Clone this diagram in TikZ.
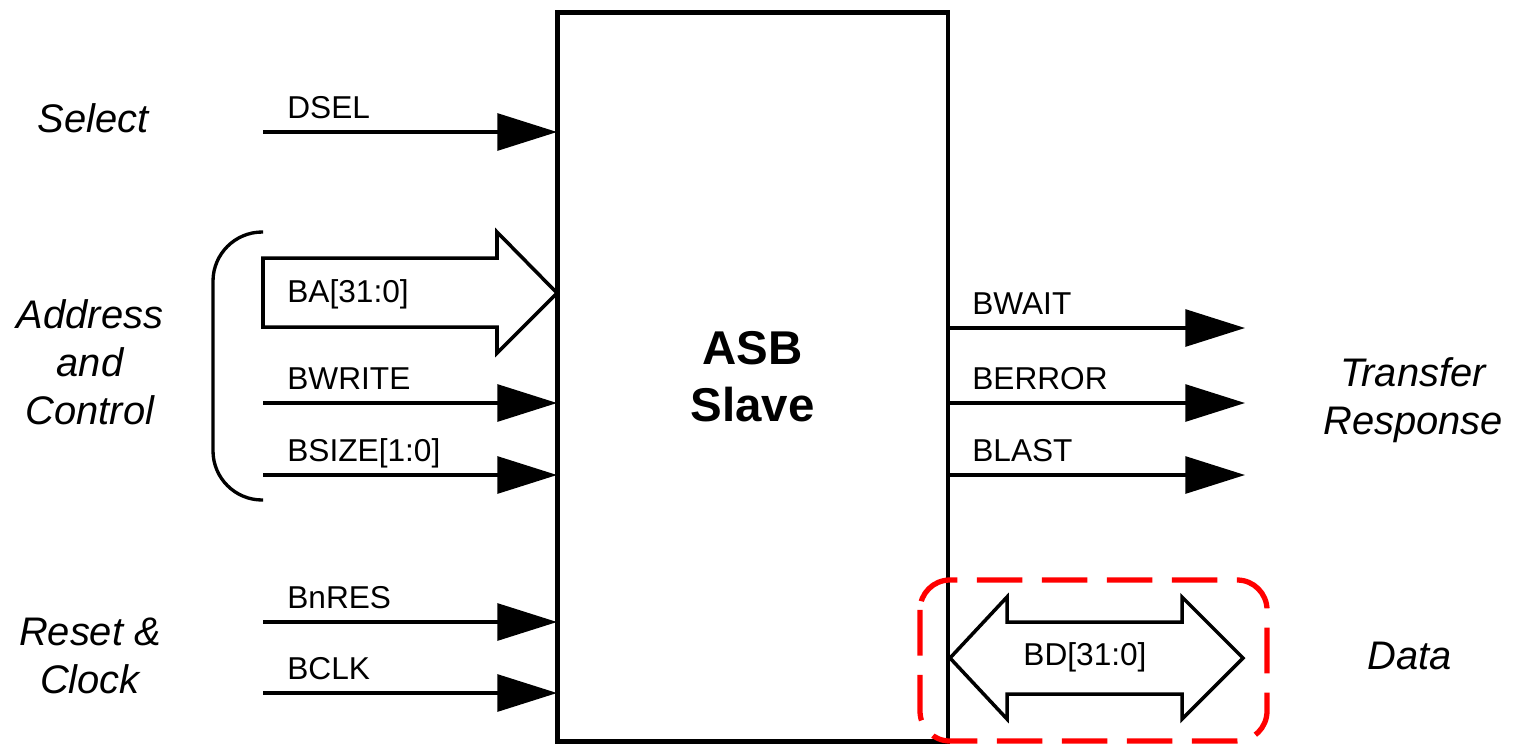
\documentclass[tikz,border=0pt]{standalone}
\usepackage{fontspec}
\setmainfont{Liberation Sans}
\usetikzlibrary{arrows.meta}

\tikzset{
  sig/.style={font=\fontsize{18}{21}\selectfont, inner sep=0pt, anchor=base west},
  grp/.style={font=\fontsize{22.7}{27.3}\selectfont\itshape, align=center, inner sep=0pt},
  wire/.style={line width=1.9pt, -{Triangle[length=34pt,width=21pt]}},
  bus/.style={line width=2pt, line join=miter},
}

\begin{document}
\begin{tikzpicture}[x=0.02cm, y=-0.02cm]
  \useasboundingbox (0,0) rectangle (1515,745);

  % The slave block
  \node[draw, line width=2.8pt, minimum width=7.82cm, minimum height=14.6cm,
        inner sep=0pt, outer sep=0pt, align=center,
        font=\fontsize{27}{32.5}\selectfont\bfseries]
        (slave) at (752.5,377) {ASB\\Slave};

  % Free ends of the wires
  \coordinate (dsel)   at (263,132);
  \coordinate (bwrite) at (263,403);
  \coordinate (bsize)  at (263,475);
  \coordinate (bnres)  at (263,622);
  \coordinate (bclk)   at (263,693);
  \coordinate (bwait)  at (1245,328);
  \coordinate (berror) at (1245,403);
  \coordinate (blast)  at (1245,475);

  % Select
  \draw[wire] (dsel) -- (dsel -| slave.west);
  \node[sig] (dsel-l) at (287,118) {DSEL};
  \node[grp] (select) at (93,118) {Select};

  % Address and control
  \draw[bus] (263,258) -- (497,258) -- (497,232) -- (557,293)
             -- (497,353) -- (497,327) -- (263,327) -- cycle;
  \node[sig] (ba-l) at (287,302) {BA[31:0]};
  \draw[wire] (bwrite) -- (bwrite -| slave.west);
  \node[sig] (bwrite-l) at (287,389) {BWRITE};
  \draw[wire] (bsize) -- (bsize -| slave.west);
  \node[sig] (bsize-l) at (287,461) {BSIZE[1:0]};
  \draw[line width=1.9pt, rounded corners=28pt]
        (263,232) -- (213,232) -- (213,500) -- (263,500);
  \node[grp] (addr) at (90,362) {Address\\and\\Control};

  % Reset & clock
  \draw[wire] (bnres) -- (bnres -| slave.west);
  \node[sig] (bnres-l) at (287,608) {BnRES};
  \draw[wire] (bclk) -- (bclk -| slave.west);
  \node[sig] (bclk-l) at (287,679) {BCLK};
  \node[grp] (reset) at (90,656) {Reset \&\\Clock};

  % Transfer response
  \draw[wire] (bwait -| slave.east) -- (bwait);
  \node[sig] (bwait-l) at (972,314) {BWAIT};
  \draw[wire] (berror -| slave.east) -- (berror);
  \node[sig] (berror-l) at (972,389) {BERROR};
  \draw[wire] (blast -| slave.east) -- (blast);
  \node[sig] (blast-l) at (972,461) {BLAST};
  \node[grp] (resp) at (1413,400) {Transfer\\Response};

  % Data
  \draw[bus] (950,658) -- (1007,597) -- (1007,622) -- (1182,622) -- (1182,597)
             -- (1243,658) -- (1182,719) -- (1182,694) -- (1007,694)
             -- (1007,719) -- cycle;
  \node[font=\fontsize{18}{21}\selectfont, inner sep=0pt] (bd-l) at (1085,657) {BD[31:0]};
  \node[grp] (data) at (1410,656) {Data};
  \draw[red, line width=3pt, dash pattern=on 26pt off 11pt, rounded corners=17pt]
        (920,580) rectangle (1267,741);
\end{tikzpicture}
\end{document}
